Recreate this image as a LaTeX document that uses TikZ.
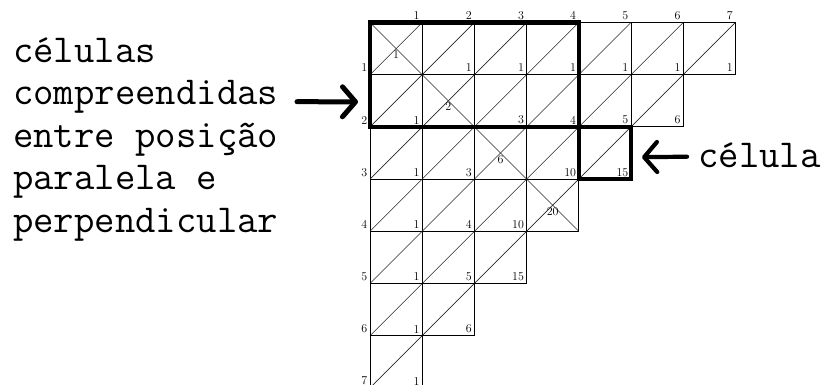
\documentclass[tikz,border=0pt]{standalone}
\usepackage{fontspec}
\usepackage{tikz}
\usetikzlibrary{arrows.meta}
\tikzset{
  cellline/.style = {draw=black, line width=0.9pt},
  diagline/.style = {draw=black!85, line width=0.6pt},
  num/.style      = {font=\fontsize{12}{12}\selectfont, inner sep=2.5pt, anchor=south east},
  midnum/.style   = {font=\fontsize{12}{12}\selectfont, inner sep=2pt, anchor=north},
  outline/.style  = {draw=black, line width=4.5pt, line join=miter},
  pointer/.style  = {line width=5pt, line cap=round,
                     -{Straight Barb[length=13pt, width=30pt, line cap=round, line join=round]}},
  note/.style     = {font=\ttfamily\fontsize{39.6}{42.5}\selectfont, align=left, inner sep=0pt},
}

\begin{document}
\begin{tikzpicture}[x=1pt, y=-1pt]
  \useasboundingbox (0,0) rectangle (821,385);
  \clip (0,0) rectangle (821,385);

  % staircase of cells
  \begin{scope}[xshift=370pt, yshift=-22.5pt, x=52.2pt, y=-52.2pt]
    \foreach \i in {1,...,7}{
      \pgfmathtruncatemacro\n{8-\i}
      \foreach \j in {1,...,\n}{
        \draw[cellline] (\j-1,\i-1) rectangle (\j,\i);
        \draw[diagline] (\j-1,\i) -- (\j,\i-1);
      }
    }
    \foreach \k in {1,...,4}
      \draw[diagline] (\k-1,\k-1) -- (\k,\k);

    % headings
    \foreach \j in {1,...,7}
      \node[num] (c\j) at (\j,0) {\j};
    \foreach \i in {1,...,7}
      \node[num] (r\i) at (0,\i) {\i};

    % values
    \foreach \i/\vals in {1/{1,1,1,1,1,1,1}, 2/{1,2,3,4,5,6}, 3/{1,3,6,10,15},
                          4/{1,4,10,20}, 5/{1,5,15}, 6/{1,6}, 7/{1}}{
      \foreach \v [count=\j] in \vals {
        \ifnum\i=\j\relax
          \node[midnum] (v\i\j) at (\j-0.5,\i-0.5) {\v};
        \else
          \node[num] (v\i\j) at (\j,\i) {\v};
        \fi
      }
    }

    % marked regions
    \draw[outline] (0,0) rectangle (4,2);
    \draw[outline] (4,2) rectangle (5,3);
    \coordinate (regionW) at (-0.23,1.52);
    \coordinate (cellE) at (5.21,2.58);
  \end{scope}

  % captions
  \node[note, anchor=base west] (region) at (13,232)
    {células\\compreendidas\\entre posição\\paralela e\\perpendicular};
  \node[note, anchor=base west] (cell) at (698,167) {célula};

  \coordinate (regionTail) at (297,101.7);
  \coordinate (cellTail) at (687,156.7);
  \draw[pointer] (regionTail) -- (regionW);
  \draw[pointer, line width=4.2pt] (cellTail) -- (cellE);
\end{tikzpicture}
\end{document}
